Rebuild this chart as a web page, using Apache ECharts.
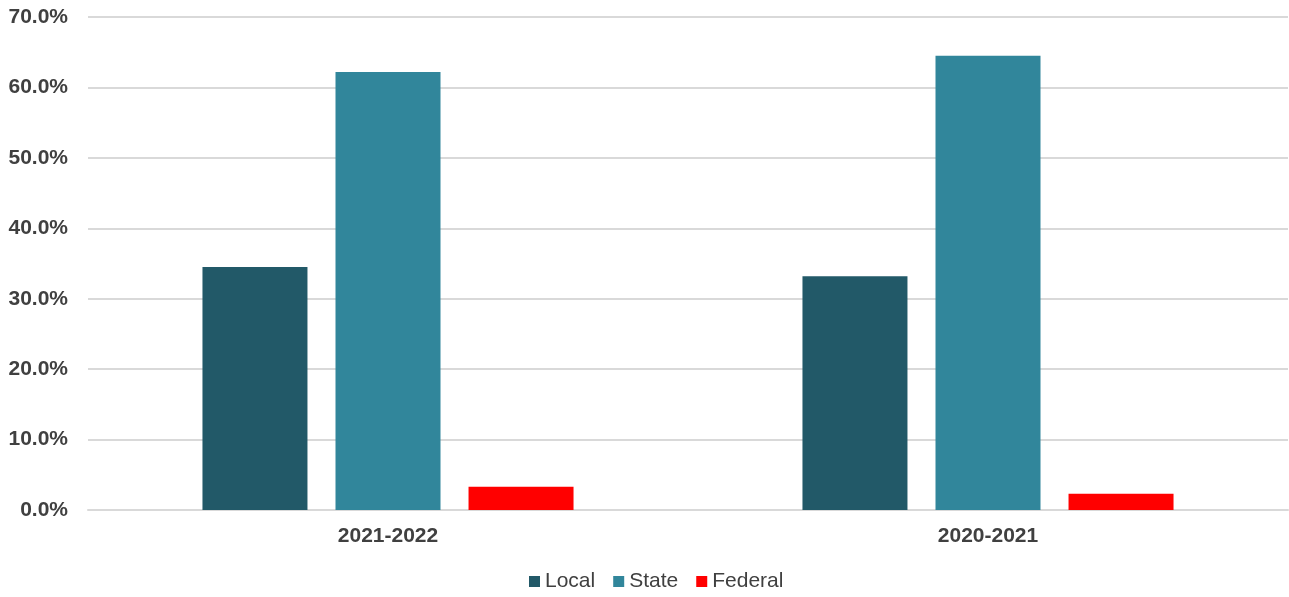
<!DOCTYPE html>
<html><head><meta charset="utf-8">
<script src="https://cdn.jsdelivr.net/npm/echarts@6/dist/echarts.min.js"></script>
<style>html,body{margin:0;padding:0;background:#fff}#c{width:1289px;height:597px}</style>
</head><body><div id="c"></div>
<script>
const categories = ['2021-2022', '2020-2021'];
const localVals = [34.5, 33.2];
const stateVals = [62.2, 64.5];
const federalVals = [3.3, 2.3];
const seriesNames = ['Local', 'State', 'Federal'];
const colors = ['#225968', '#31869B', '#FF0000'];

const chart = echarts.init(document.getElementById('c'), null, {renderer: 'canvas'});
const font = 'Liberation Sans, Arial, sans-serif';
const mk = (name, data, i) => ({
  name, type: 'bar', data, barWidth: 105, barGap: '26.7%',
  itemStyle: {color: colors[i]}
});
chart.setOption({
  animation: false,
  textStyle: {fontFamily: font},
  grid: {left: 88, right: 1, top: 17, bottom: 87, containLabel: false},
  legend: {
    bottom: 0, left: 524, itemWidth: 11, itemHeight: 11, itemGap: 18,
    icon: 'rect',
    textStyle: {fontSize: 21, color: '#404040', fontFamily: font, padding: [0, 0, 0, 0]},
    data: seriesNames
  },
  xAxis: {
    type: 'category', data: categories,
    axisLine: {show: true, lineStyle: {color: '#d9d9d9', width: 2}},
    axisTick: {show: false},
    axisLabel: {fontSize: 21, fontWeight: 'bold', color: '#404040', margin: 16, fontFamily: font}
  },
  yAxis: {
    type: 'value', min: 0, max: 70, interval: 10,
    axisLine: {show: false}, axisTick: {show: false},
    splitLine: {lineStyle: {color: '#d9d9d9', width: 2}},
    axisLabel: {formatter: v => v.toFixed(1) + '%', fontSize: 21, fontWeight: 'bold', color: '#404040', margin: 20, fontFamily: font}
  },
  series: [mk(seriesNames[0], localVals, 0), mk(seriesNames[1], stateVals, 1), mk(seriesNames[2], federalVals, 2)]
});
</script></body></html>
